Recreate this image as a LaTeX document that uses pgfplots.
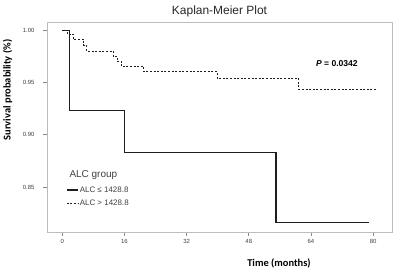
\documentclass[border=0pt]{standalone}
\usepackage{fontspec}
\setmainfont{Liberation Sans}
\newfontfamily\carlito{Carlito}
\usepackage{pgfplots}
\pgfplotsset{compat=1.18}
\definecolor{framegray}{HTML}{BDBDBD}
\definecolor{tickgray}{HTML}{8A8A8A}
\definecolor{curve}{HTML}{1E1E1E}
\definecolor{labgray}{HTML}{404040}
\begin{document}
\begin{tikzpicture}
\useasboundingbox (-47bp,-39bp) rectangle (351bp,232bp);
\begin{axis}[
  at={(0,0)}, anchor=south west,
  scale only axis, width=345bp, height=210bp,
  xmin=-3.91, xmax=84.84, ymin=0.807, ymax=1.0079,
  xtick={0,16,32,48,64,80},
  ytick={0.85,0.90,0.95,1.00},
  yticklabel style={/pgf/number format/fixed, /pgf/number format/fixed zerofill, /pgf/number format/precision=2},
  /pgf/number format/assume math mode=true,
  axis line style={draw=framegray, line width=0.9bp},
  tick style={draw=tickgray, line width=0.6bp},
  tick align=outside, major tick length=3.5bp,
  xtick pos=bottom, ytick pos=left,
  ticklabel style={font=\fontsize{6}{7}\selectfont, text=labgray},
  yticklabel shift=5.5bp,
  legend style={at={(axis description cs:0.055,0.225)}, anchor=north west, draw=none, fill=none,
    inner sep=0pt, font=\fontsize{8}{9}\selectfont, text=labgray,
    row sep=3.5bp, nodes={inner sep=1.5bp}},
  legend cell align=left,
  legend image code/.code={\draw[#1] (0bp,0bp) -- (11bp,0bp);},
]
\addplot[const plot, color=curve, line width=1.1bp] coordinates {
  (0,1.0) (1.8,0.9235) (16,0.8834) (55,0.8158) (78.9,0.8158)
};
\addlegendentry{ALC ≤ 1428.8}
\addplot[const plot, color=curve, line width=1.05bp, dash pattern=on 2bp off 1.6bp] coordinates {
  (0,1.0) (1.3,0.9960) (3.0,0.9910) (5.6,0.9855) (6.3,0.9800)
  (13.1,0.9750) (14.2,0.9700) (15.3,0.9650) (21.0,0.9601)
  (39.9,0.9539) (60.9,0.9436) (80.6,0.9436)
};
\addlegendentry{ALC > 1428.8}
\node[anchor=west, font=\bfseries\fontsize{8.6}{10}\selectfont] at (axis cs:64.4,0.9684) {\textit{P} = 0.0342};
\end{axis}
\node[anchor=base, font=\fontsize{12}{14}\selectfont, text=black!85] at (172.5bp,217bp) {Kaplan-Meier Plot};
\node[anchor=base west, font=\fontsize{10}{12}\selectfont, text=labgray] at (19bp,54.7bp) {ALC group};
\node[rotate=90, font=\carlito\bfseries\fontsize{10.5}{12}\selectfont] at (-39.5bp,142bp) {Survival probability (\%)};
\node[font=\carlito\bfseries\fontsize{10.5}{12}\selectfont] at (232bp,-31bp) {Time (months)};
\end{tikzpicture}
\end{document}
